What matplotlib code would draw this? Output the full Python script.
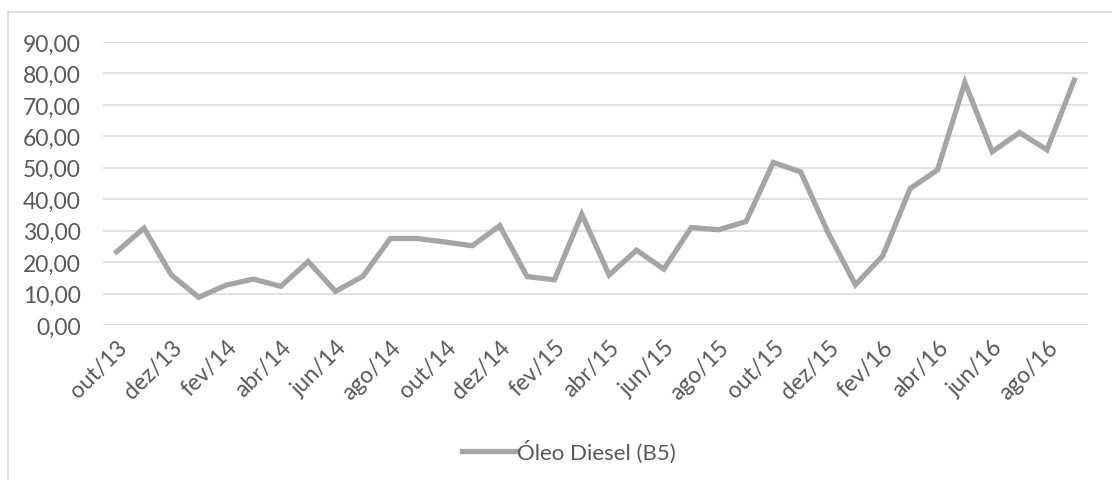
import numpy as np
import matplotlib
matplotlib.use("Agg")
from matplotlib import pyplot as plt
from matplotlib.lines import Line2D

# meses out/13 .. set/16
meses = ["out/13", "nov/13", "dez/13", "jan/14", "fev/14", "mar/14", "abr/14", "mai/14",
         "jun/14", "jul/14", "ago/14", "set/14", "out/14", "nov/14", "dez/14", "jan/15",
         "fev/15", "mar/15", "abr/15", "mai/15", "jun/15", "jul/15", "ago/15", "set/15",
         "out/15", "nov/15", "dez/15", "jan/16", "fev/16", "mar/16", "abr/16", "mai/16",
         "jun/16", "jul/16", "ago/16", "set/16"]
diesel = [23.3, 30.8, 15.9, 8.8, 12.7, 14.6, 12.3, 20.2, 10.7, 15.5, 27.5, 27.5,
          26.4, 25.2, 31.6, 15.4, 14.4, 35.2, 15.9, 23.8, 17.8, 31.0, 30.3, 32.9,
          51.7, 48.7, 29.4, 12.8, 22.0, 43.4, 49.3, 77.1, 55.1, 61.2, 55.7, 77.9]
yticks = [0, 10, 20, 30, 40, 50, 60, 70, 80, 90]

plt.rcParams['font.family'] = ['Lato', 'DejaVu Sans']
cinza_txt = "#595959"
cinza_grade = "#D9D9D9"

fig = plt.figure(figsize=(11.12, 4.81), dpi=100)
ax = fig.add_axes([0.0926, 0.3222, 0.8858, 0.5884])

x = np.arange(len(meses))
ax.plot(x, diesel, color="#A5A5A5", lw=3.8, solid_joinstyle="miter", label="Óleo Diesel (B5)")

ax.set_xlim(-0.5, len(meses) - 0.5)
ax.set_ylim(0, 90)
ax.set_yticks(yticks)
ax.set_yticklabels(["%d,00" % v for v in yticks])
ax.set_xticks(x[::2])
ax.set_xticklabels(meses[::2], rotation=45, ha="right", rotation_mode="anchor")

ax.grid(axis="y", color=cinza_grade, lw=1.1)
ax.set_axisbelow(True)
for s in ax.spines.values():
    s.set_visible(False)
ax.tick_params(axis="both", length=0, labelsize=16.5, labelcolor=cinza_txt)
ax.tick_params(axis="y", pad=16)
ax.tick_params(axis="x", pad=8)

# borda do grafico
fig.add_artist(Line2D([0.0072, 1.0], [0.973, 0.973], color=cinza_grade, lw=1.2))
fig.add_artist(Line2D([0.0072, 0.0072], [0.0, 0.973], color=cinza_grade, lw=1.2))

ax.legend(loc="center", bbox_to_anchor=(0.5117, 0.0603), bbox_transform=fig.transFigure,
          frameon=False, fontsize=16, labelcolor=cinza_txt, handlelength=2.4,
          handletextpad=0.05)

fig.savefig("out.png", dpi=100)
